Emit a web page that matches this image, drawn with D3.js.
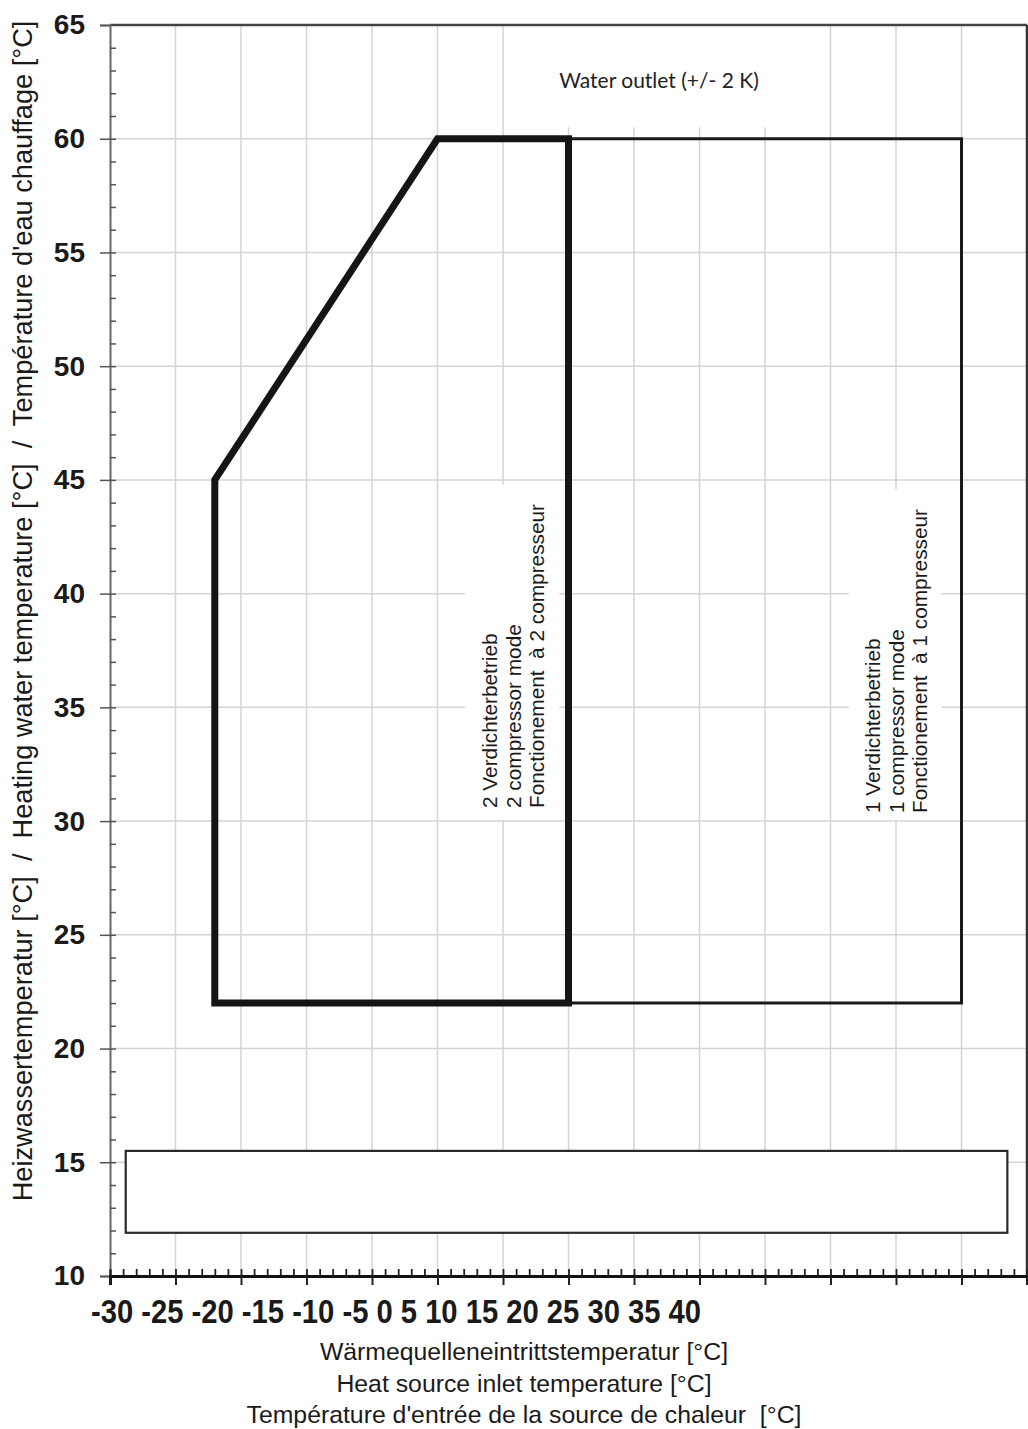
<!DOCTYPE html>
<html>
<head>
<meta charset="utf-8">
<script src="https://cdn.jsdelivr.net/npm/d3@7"></script>
<style>
  body { margin: 0; background: #fff; }
  svg { display: block; font-family: "Liberation Sans", Arial, sans-serif; }
  .grid line { stroke: #d4d4d4; stroke-width: 1.5; }
  text.keep { white-space: pre; }
</style>
</head>
<body>
<svg width="1028" height="1429"></svg>
<script>
// operating limits chart, heat source temperature vs. heating water temperature

const xTickLabels = [-30, -25, -20, -15, -10, -5, 0, 5, 10, 15, 20, 25, 30, 35, 40];
const yTicks = [10, 15, 20, 25, 30, 35, 40, 45, 50, 55, 60, 65];

// 2 compressor mode (thick outline) and 1 compressor mode (thin outline)
const twoCompressor = [[-22, 22], [-22, 45], [-5, 60], [5, 60], [5, 22]];
const oneCompressor = [[5, 22], [5, 60], [35, 60], [35, 22]];
// empty box at the bottom
const emptyBox = [[-28.8, 11.9], [38.5, 15.5]];

const twoCompText = ['2 Verdichterbetrieb', '2 compressor mode', 'Fonctionement  à 2 compresseur'];
const oneCompText = ['1 Verdichterbetrieb', '1 compressor mode', 'Fonctionement  à 1 compresseur'];
const outletText = 'Water outlet (+/- 2 K)';
const xTitle = ['Wärmequelleneintrittstemperatur [°C]', 'Heat source inlet temperature [°C]',
    "Température d'entrée de la source de chaleur  [°C]"];
const yTitle = "Heizwassertemperatur [°C]  /  Heating water temperature [°C]  /  Température d'eau chauffage [°C]";

const svg = d3.select('svg');
const x = d3.scaleLinear().domain([-30, 40]).range([110, 1027]);
const y = d3.scaleLinear().domain([10, 65]).range([1276, 25]);

// grid
const grid = svg.append('g').attr('class', 'grid');
grid.selectAll('.vx').data(d3.range(-25, 40, 5)).join('line')
    .attr('x1', d => x(d)).attr('x2', d => x(d))
    .attr('y1', y(65)).attr('y2', y(10));
grid.selectAll('.hy').data(d3.range(15, 65, 5)).join('line')
    .attr('x1', x(-30)).attr('x2', x(40))
    .attr('y1', d => y(d)).attr('y2', d => y(d));

// white boxes that hide the grid behind the texts
const whiteBoxes = [
    [[0.5, 60.5], [22.6, 65]],
    [[-2.9, 30.05], [4.3, 44.8]],
    [[26.4, 30.05], [33.5, 44.6]]
];
svg.append('g').selectAll('rect').data(whiteBoxes).join('rect')
    .attr('x', d => x(d[0][0])).attr('y', d => y(d[1][1]))
    .attr('width', d => x(d[1][0]) - x(d[0][0]))
    .attr('height', d => y(d[0][1]) - y(d[1][1]))
    .attr('fill', '#fff');

// bottom box
svg.append('rect')
    .attr('x', x(emptyBox[0][0])).attr('y', y(emptyBox[1][1]))
    .attr('width', x(emptyBox[1][0]) - x(emptyBox[0][0]))
    .attr('height', y(emptyBox[0][1]) - y(emptyBox[1][1]))
    .attr('fill', '#fff').attr('stroke', '#2a2a2a').attr('stroke-width', 2.2);

const line = d3.line().x(d => x(d[0])).y(d => y(d[1])).curve(d3.curveLinearClosed);

svg.append('path').datum(oneCompressor)
    .attr('d', line).attr('fill', 'none')
    .attr('stroke', '#1a1a1a').attr('stroke-width', 3);

svg.append('path').datum(twoCompressor)
    .attr('d', line).attr('fill', 'none')
    .attr('stroke', '#151515').attr('stroke-width', 7)
    .attr('stroke-linejoin', 'miter');

// frame
svg.append('line').attr('x1', x(-30)).attr('x2', x(40)).attr('y1', y(65)).attr('y2', y(65))
    .attr('stroke', '#444').attr('stroke-width', 2.5);
svg.append('line').attr('x1', x(40)).attr('x2', x(40)).attr('y1', y(65)).attr('y2', y(10))
    .attr('stroke', '#333').attr('stroke-width', 2.5);

// y axis
const yAxis = svg.append('g').attr('transform', `translate(${x(-30)},0)`)
    .call(d3.axisLeft(y).tickValues(yTicks).tickSize(10).tickPadding(15));
yAxis.select('.domain').attr('stroke', '#666').attr('stroke-width', 2);
yAxis.selectAll('.tick line').attr('stroke', '#555').attr('stroke-width', 1.5);
yAxis.selectAll('.tick text')
    .attr('font-size', 28).attr('font-weight', 'bold').attr('fill', '#1a1a1a')
    .attr('font-family', '"Liberation Sans", Arial, sans-serif');
svg.append('g').attr('transform', `translate(${x(-30)},0)`)
    .call(d3.axisRight(y).tickValues(d3.range(10, 65, 1)).tickSize(6).tickFormat(''))
    .call(g => g.select('.domain').remove())
    .selectAll('line').attr('stroke', '#555').attr('stroke-width', 1.5);

// x axis
svg.append('g').attr('transform', `translate(0,${y(10)})`)
    .call(d3.axisTop(x).tickValues(d3.range(-30, 41, 1)).tickSize(7).tickFormat(''))
    .call(g => g.select('.domain').remove())
    .selectAll('line').attr('stroke', '#222').attr('stroke-width', 1.8);
const xAxis = svg.append('g').attr('transform', `translate(0,${y(10)})`)
    .call(d3.axisBottom(x).tickValues(d3.range(-30, 41, 5)).tickSize(9).tickFormat(''));
xAxis.select('.domain').attr('stroke', '#111').attr('stroke-width', 3);
xAxis.selectAll('.tick line').attr('stroke', '#222').attr('stroke-width', 2);
xAxis.selectAll('.tick').filter(d => d === -30).select('line').attr('y1', -6);

// x tick labels, written as one line of text under the axis
svg.append('text').attr('class', 'keep')
    .attr('x', 91).attr('y', 1323)
    .attr('font-family', '"Liberation Sans Narrow", "Liberation Sans", Arial, sans-serif')
    .attr('font-weight', 'bold').attr('font-size', 33).attr('fill', '#1a1a1a')
    .attr('textLength', 610).attr('lengthAdjust', 'spacingAndGlyphs')
    .text(xTickLabels.join(' '));

// axis titles
svg.append('g').selectAll('text').data(xTitle).join('text').attr('class', 'keep')
    .attr('x', 524).attr('y', (d, i) => 1360 + i * 31.5)
    .attr('text-anchor', 'middle').attr('font-size', 24.8).attr('fill', '#1a1a1a')
    .text(d => d);

svg.append('text').attr('class', 'keep')
    .attr('transform', 'translate(32,611) rotate(-90)')
    .attr('text-anchor', 'middle').attr('font-size', 27.2).attr('fill', '#1a1a1a')
    .text(yTitle);

// labels in the chart
svg.append('text')
    .attr('x', 659).attr('y', 88).attr('text-anchor', 'middle')
    .attr('font-family', 'Lato, "Open Sans", sans-serif').attr('font-size', 21).attr('fill', '#222')
    .text(outletText);

function modeLabel(lines, px, py) {
    svg.append('g').attr('transform', `translate(${px},${py}) rotate(-90)`)
        .selectAll('text').data(lines).join('text').attr('class', 'keep')
        .attr('x', 0).attr('y', (d, i) => i * 23.7)
        .attr('font-size', 20.8).attr('fill', '#1a1a1a')
        .text(d => d);
}
modeLabel(twoCompText, 497, 808);
modeLabel(oneCompText, 880, 813);
</script>
</body>
</html>
